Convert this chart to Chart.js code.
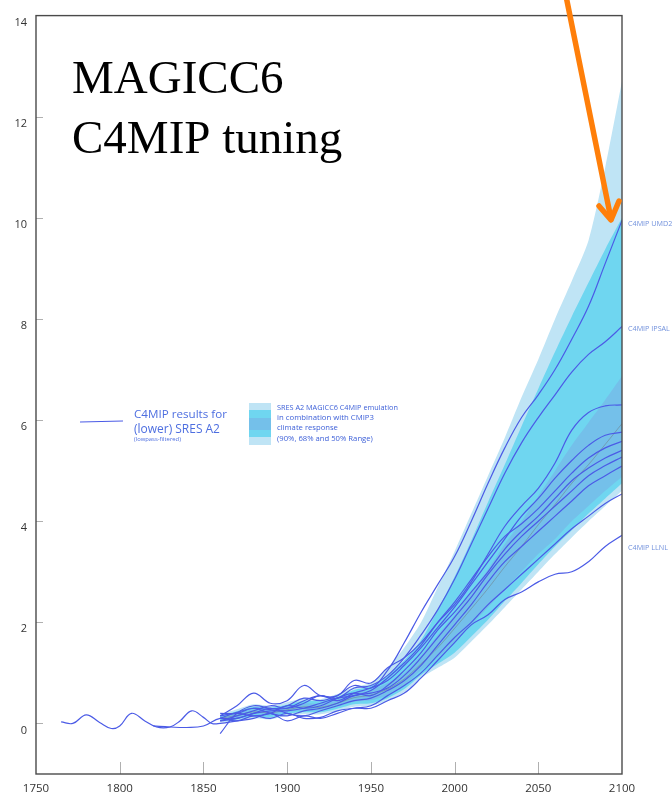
<!DOCTYPE html>
<html>
<head>
<meta charset="utf-8">
<script src="https://cdn.jsdelivr.net/npm/chart.js@4/dist/chart.umd.min.js"></script>
<style>
  html, body { margin: 0; padding: 0; background: #fff; overflow: hidden; }
  #wrap { position: relative; width: 672px; height: 798px; }
</style>
</head>
<body>
<div id="wrap"><canvas id="c" width="672" height="798"></canvas></div>
<script>
// ---- axis ticks ----
const xTicks = [1750, 1800, 1850, 1900, 1950, 2000, 2050, 2100];
const yTicks = [0, 2, 4, 6, 8, 10, 12, 14];

// ---- common decadal grid for the C4MIP runs and emulation ranges ----
const years = [1860, 1870, 1880, 1890, 1900, 1910, 1920, 1930, 1940, 1950, 1960, 1970,
               1980, 1990, 2000, 2010, 2020, 2030, 2040, 2050, 2060, 2070, 2080, 2090, 2100];

// MAGICC6 emulation ranges (lower / upper bounds)
const range90Lo = [0.02, 0.05, 0.10, 0.08, 0.15, 0.18, 0.18, 0.25, 0.33, 0.35, 0.45, 0.62, 0.90, 1.10, 1.30, 1.62, 1.95, 2.30, 2.65, 3.00, 3.35, 3.68, 4.00, 4.30, 4.60];
const range90Hi = [0.18, 0.28, 0.38, 0.35, 0.42, 0.50, 0.48, 0.58, 0.72, 0.80, 1.10, 1.50, 2.00, 2.70, 3.40, 4.15, 4.90, 5.65, 6.45, 7.20, 8.00, 8.75, 9.55, 11.00, 12.70];
const range68Lo = [0.05, 0.08, 0.14, 0.12, 0.19, 0.22, 0.22, 0.29, 0.38, 0.40, 0.50, 0.68, 0.96, 1.18, 1.40, 1.72, 2.05, 2.42, 2.78, 3.15, 3.50, 3.82, 4.15, 4.45, 4.75];
const range68Hi = [0.15, 0.24, 0.33, 0.31, 0.37, 0.45, 0.44, 0.53, 0.66, 0.74, 0.95, 1.25, 1.65, 2.25, 2.90, 3.62, 4.38, 5.12, 5.88, 6.62, 7.35, 8.05, 8.72, 9.38, 10.00];
const range50Lo = [0.08, 0.11, 0.18, 0.16, 0.23, 0.26, 0.26, 0.33, 0.43, 0.46, 0.56, 0.75, 1.05, 1.30, 1.60, 1.95, 2.30, 2.65, 3.00, 3.35, 3.65, 4.00, 4.30, 4.60, 4.88];
const range50Hi = [0.12, 0.20, 0.28, 0.26, 0.32, 0.40, 0.39, 0.48, 0.60, 0.66, 0.80, 1.00, 1.35, 1.75, 2.15, 2.60, 3.05, 3.55, 4.00, 4.50, 5.00, 5.50, 5.95, 6.40, 6.87];
const emulMedian = [0.10, 0.16, 0.23, 0.21, 0.27, 0.33, 0.32, 0.40, 0.51, 0.56, 0.68, 0.88, 1.18, 1.50, 1.88, 2.27, 2.67, 3.10, 3.50, 3.93, 4.33, 4.75, 5.12, 5.52, 5.93];

// C4MIP model runs (lowpass-filtered), SRES A2
const runUMD  = [0.10, 0.22, 0.30, 0.28, 0.35, 0.50, 0.45, 0.55, 0.75, 0.70, 1.05, 1.60, 2.20, 2.75, 3.30, 4.00, 4.75, 5.45, 6.05, 6.50, 7.00, 7.60, 8.25, 9.10, 9.95];
const runIPSL = [-0.20, 0.20, 0.35, 0.30, 0.30, 0.45, 0.55, 0.50, 0.70, 0.75, 0.95, 1.30, 1.75, 2.25, 2.85, 3.55, 4.25, 4.95, 5.55, 6.05, 6.50, 6.95, 7.30, 7.55, 7.85];
const runC    = [0.15, 0.35, 0.60, 0.40, 0.45, 0.75, 0.55, 0.55, 0.85, 0.80, 1.10, 1.30, 1.60, 2.00, 2.35, 2.80, 3.35, 3.90, 4.30, 4.65, 5.15, 5.80, 6.15, 6.28, 6.30];
const runD    = [0.05, 0.15, 0.25, 0.35, 0.30, 0.40, 0.55, 0.45, 0.60, 0.70, 0.85, 1.15, 1.50, 1.90, 2.30, 2.75, 3.20, 3.65, 4.10, 4.45, 4.85, 5.20, 5.50, 5.70, 5.76];
const runE    = [0.10, 0.10, 0.20, 0.25, 0.25, 0.30, 0.40, 0.50, 0.55, 0.65, 0.90, 1.20, 1.55, 2.00, 2.40, 2.85, 3.30, 3.70, 3.95, 4.25, 4.60, 4.95, 5.25, 5.45, 5.58];
const runF    = [0.15, 0.20, 0.15, 0.20, 0.35, 0.30, 0.35, 0.50, 0.60, 0.55, 0.75, 1.05, 1.40, 1.85, 2.20, 2.60, 3.00, 3.45, 3.80, 4.10, 4.45, 4.80, 5.05, 5.25, 5.40];
const runG    = [0.20, 0.20, 0.30, 0.20, 0.15, 0.25, 0.30, 0.40, 0.55, 0.60, 0.70, 0.95, 1.30, 1.70, 2.10, 2.50, 2.95, 3.35, 3.70, 4.00, 4.30, 4.60, 4.90, 5.10, 5.27];
const runH    = [0.05, 0.10, 0.20, 0.30, 0.20, 0.15, 0.25, 0.35, 0.45, 0.50, 0.65, 0.85, 1.15, 1.55, 1.95, 2.35, 2.80, 3.20, 3.50, 3.80, 4.10, 4.40, 4.70, 4.90, 5.09];
const runI    = [0.10, 0.05, 0.15, 0.10, 0.20, 0.10, 0.12, 0.25, 0.30, 0.35, 0.55, 0.75, 1.00, 1.35, 1.70, 2.00, 2.35, 2.65, 2.95, 3.25, 3.55, 3.85, 4.10, 4.35, 4.54];
const runLLNL = [0.00, 0.05, 0.10, 0.20, 0.05, 0.15, 0.10, 0.20, 0.30, 0.30, 0.45, 0.60, 0.90, 1.25, 1.60, 1.95, 2.15, 2.45, 2.60, 2.80, 2.95, 3.00, 3.20, 3.50, 3.72];

// pre-1860 segments of the two long runs
const preYearsA = [1765, 1772, 1780, 1788, 1795, 1800, 1807, 1815, 1822, 1830, 1836, 1843, 1850, 1855];
const preRunA   = [0.03, 0.00, 0.17, 0.02, -0.10, -0.05, 0.20, 0.05, -0.07, -0.07, 0.05, 0.25, 0.12, 0.00];
const preYearsB = [1820, 1830, 1840, 1850];
const preRunB   = [-0.05, -0.07, -0.08, -0.05];

const LINE_BLUE = '#4b5be6';
const TEXT_BLUE = '#4d6ee0';

function pts(xs, ys) { return xs.map((x, i) => ({ x: x, y: ys[i] })); }

const runs = [
  { name: 'C4MIP UMD2',  data: pts(years, runUMD),  label: true, dy: 4 },
  { name: 'C4MIP IPSAL', data: pts(years, runIPSL), label: true, dy: 2 },
  { name: 'run C', data: pts(years, runC) },
  { name: 'run D', data: pts(years, runD) },
  { name: 'run E', data: pts(years, runE) },
  { name: 'run F', data: pts(years, runF) },
  { name: 'run G', data: pts(years, runG) },
  { name: 'run H', data: pts(years, runH) },
  { name: 'run I', data: pts(preYearsB, preRunB).concat(pts(years, runI)) },
  { name: 'C4MIP LLNL',  data: pts(preYearsA, preRunA).concat(pts(years, runLLNL)), label: true, dy: 13 }
];

function band(data, fillTo, color, order) {
  return {
    data: data, borderWidth: 0, pointRadius: 0, tension: 0.25,
    fill: fillTo === null ? false : fillTo, backgroundColor: color, borderColor: 'rgba(0,0,0,0)', order: order
  };
}

const datasets = [
  band(pts(years, range90Lo), null, '#bfe4f5', 30),
  band(pts(years, range90Hi), 0, '#bfe4f5', 30),
  band(pts(years, range68Lo), null, '#6fd6f0', 20),
  band(pts(years, range68Hi), 2, '#6fd6f0', 20),
  band(pts(years, range50Lo), null, '#74c0ea', 10),
  band(pts(years, range50Hi), 4, '#74c0ea', 10),
  { data: pts(years, emulMedian), borderColor: 'rgba(110,110,110,0.55)', borderWidth: 0.8,
    pointRadius: 0, tension: 0.3, fill: false, order: 5 }
];
runs.forEach(r => datasets.push({
  label: r.name, data: r.data, borderColor: LINE_BLUE, borderWidth: 1.2,
  pointRadius: 0, tension: 0.4, fill: false, order: 0
}));

function fitText(ctx, text, x, y, width, family, weight) {
  ctx.font = (weight || '') + ' 20px ' + family;
  const size = 20 * width / ctx.measureText(text).width;
  ctx.font = (weight || '') + ' ' + size.toFixed(2) + 'px ' + family;
  ctx.fillText(text, x, y);
}

const decor = {
  id: 'decor',
  beforeDraw(chart) {
    const ctx = chart.ctx;
    ctx.save();
    ctx.fillStyle = '#ffffff';
    ctx.fillRect(0, 0, chart.width, chart.height);
    ctx.restore();
  },
  afterDraw(chart) {
    const ctx = chart.ctx;
    const a = chart.chartArea;
    const xs = chart.scales.x, ys = chart.scales.y;
    ctx.save();

    // inward tick marks
    ctx.strokeStyle = '#b0b0b0';
    ctx.lineWidth = 1;
    yTicks.forEach(v => {
      if (v >= 14) return;
      const p = Math.round(ys.getPixelForValue(v)) + 0.5;
      ctx.beginPath(); ctx.moveTo(a.left, p); ctx.lineTo(a.left + 7, p); ctx.stroke();
    });
    xTicks.forEach(v => {
      if (v === 1750 || v === 2100) return;
      const p = Math.round(xs.getPixelForValue(v)) + 0.5;
      ctx.beginPath(); ctx.moveTo(p, a.bottom); ctx.lineTo(p, a.bottom - 12); ctx.stroke();
    });

    // frame
    ctx.strokeStyle = '#4a4a4a';
    ctx.lineWidth = 1.4;
    ctx.strokeRect(a.left, a.top, a.right - a.left, a.bottom - a.top);

    // title
    ctx.fillStyle = '#000';
    ctx.textBaseline = 'alphabetic';
    ctx.textAlign = 'left';
    ctx.font = '47px "Liberation Serif", "Times New Roman", serif';
    ctx.fillText('MAGICC6', 72, 93);
    ctx.fillText('C4MIP tuning', 72, 153);

    // end-of-run labels
    ctx.fillStyle = '#7191dc';
    ctx.font = '7.2px "Open Sans", sans-serif';
    ctx.textBaseline = 'middle';
    runs.forEach(r => {
      if (!r.label) return;
      const last = r.data[r.data.length - 1];
      ctx.fillText(r.name, a.right + 6, ys.getPixelForValue(last.y) + r.dy);
    });

    // legend: model runs
    ctx.strokeStyle = LINE_BLUE;
    ctx.lineWidth = 1.2;
    ctx.beginPath(); ctx.moveTo(80, 422); ctx.lineTo(123, 421); ctx.stroke();
    ctx.fillStyle = TEXT_BLUE;
    ctx.textBaseline = 'alphabetic';
    fitText(ctx, 'C4MIP results for', 134, 418, 93, '"Open Sans", sans-serif');
    fitText(ctx, '(lower) SRES A2', 134, 433, 86, '"Open Sans", sans-serif');
    fitText(ctx, '(lowpass-filtered)', 134, 441, 47, '"Open Sans", sans-serif');

    // legend: emulation ranges
    ctx.fillStyle = '#bfe4f5'; ctx.fillRect(249, 403, 22, 42);
    ctx.fillStyle = '#6fd6f0'; ctx.fillRect(249, 410, 22, 27);
    ctx.fillStyle = '#74c0ea'; ctx.fillRect(249, 418, 22, 12);
    ctx.fillStyle = '#3c5fd8';
    fitText(ctx, 'SRES A2 MAGICC6 C4MIP emulation', 277, 410, 121, '"Open Sans", sans-serif');
    fitText(ctx, 'in combination with CMIP3', 277, 420, 97, '"Open Sans", sans-serif');
    fitText(ctx, 'climate response', 277, 430, 61, '"Open Sans", sans-serif');
    fitText(ctx, '(90%, 68% and 50% Range)', 277, 441, 96, '"Open Sans", sans-serif');

    // orange pointer onto the UMD2 run
    ctx.strokeStyle = '#ff7f0a';
    ctx.lineWidth = 5.5;
    ctx.lineCap = 'round';
    ctx.lineJoin = 'round';
    ctx.beginPath(); ctx.moveTo(566, -4); ctx.lineTo(611, 219); ctx.stroke();
    ctx.beginPath(); ctx.moveTo(599, 206); ctx.lineTo(611, 220); ctx.lineTo(619, 201); ctx.stroke();

    ctx.restore();
  }
};

new Chart(document.getElementById('c'), {
  type: 'line',
  data: { datasets: datasets },
  options: {
    responsive: false,
    animation: false,
    devicePixelRatio: 1,
    layout: { padding: { top: 8, right: 50, left: 0, bottom: 0 } },
    plugins: { legend: { display: false }, tooltip: { enabled: false } },
    elements: { point: { radius: 0 } },
    scales: {
      x: {
        type: 'linear', min: 1750, max: 2100,
        afterBuildTicks: s => { s.ticks = xTicks.map(v => ({ value: v })); },
        afterFit: s => { s.height = 24; },
        grid: { display: false, drawTicks: false },
        border: { display: false },
        ticks: { padding: 8, color: '#333', autoSkip: false, maxRotation: 0,
                 font: { family: '"Open Sans", sans-serif', size: 11.5 },
                 callback: v => String(v) }
      },
      y: {
        type: 'linear', min: -1, max: 14,
        afterBuildTicks: s => { s.ticks = yTicks.map(v => ({ value: v })); },
        afterFit: s => { s.width = 36; },
        grid: { display: false, drawTicks: false },
        border: { display: false },
        ticks: { padding: 9, labelOffset: 7, color: '#333',
                 font: { family: '"Open Sans", sans-serif', size: 11 },
                 callback: v => String(v) }
      }
    }
  },
  plugins: [decor]
});
</script>
</body>
</html>
